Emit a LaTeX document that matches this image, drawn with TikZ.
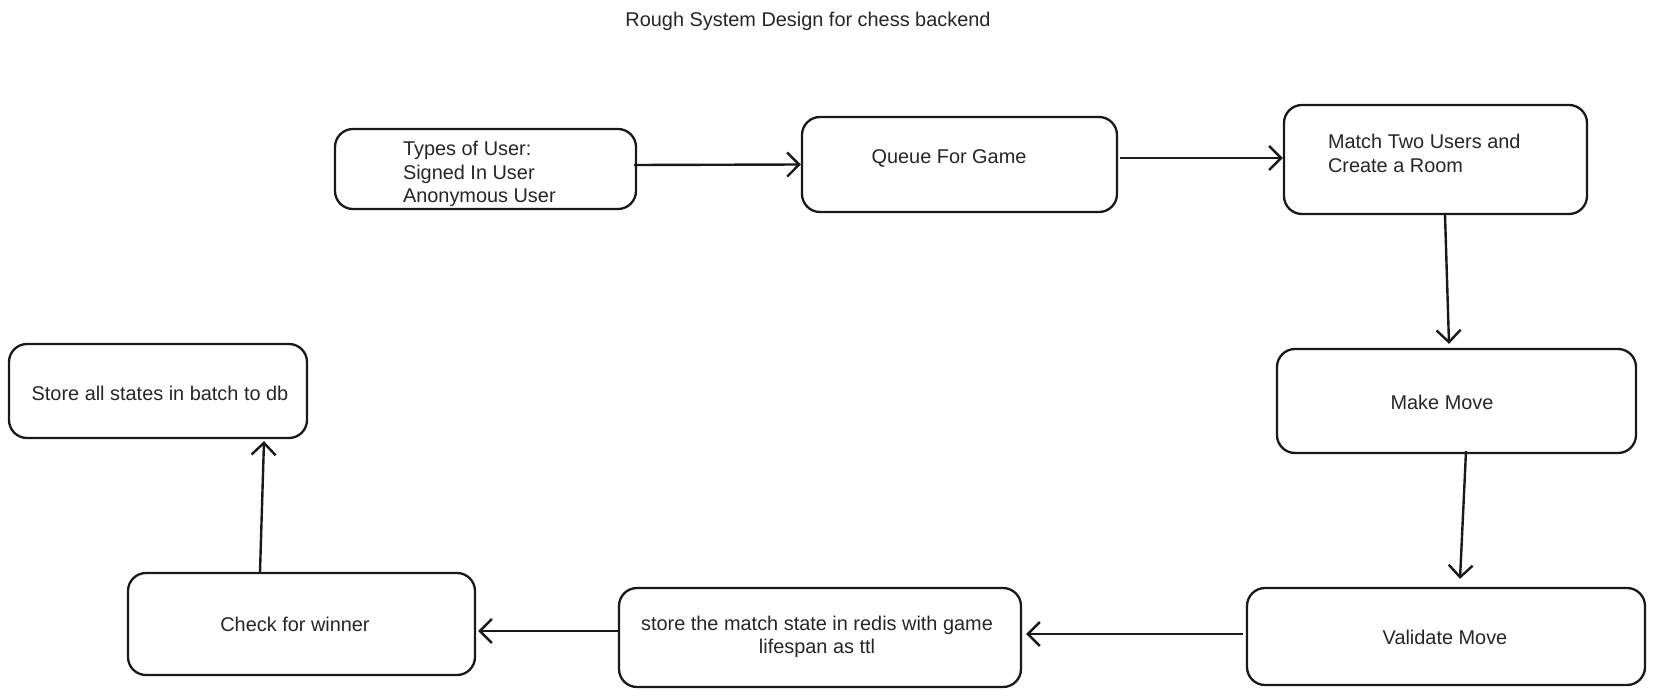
\documentclass[tikz,border=0pt]{standalone}
\usepackage{fontspec}
\setmainfont{Liberation Sans}
\usetikzlibrary{arrows.meta}
\begin{document}
\begin{tikzpicture}[x=1pt,y=-1pt,
  box/.style={draw=black!90, line width=2.3pt, rounded corners=18pt, inner sep=0pt, fill=white},
  txt/.style={font=\fontsize{19.9}{23.3}\selectfont, text=black!85},
  arr/.style={draw=black!90, line width=2.4pt, -{Straight Barb[length=12pt,width=24pt,line width=2.4pt]}}]
\useasboundingbox[fill=white] (0,0) rectangle (1653,698);
\node[txt] (title) at (808,21) {Rough System Design for chess backend};

\node[box, minimum width=301pt, minimum height=80pt] (b1) at (485.5,169) {};
\node[txt, anchor=west, align=left] (t1) at (399.5,174) {Types of User:\\Signed In User\\Anonymous User};

\node[box, txt, minimum width=315pt, minimum height=95pt] (b2) at (959.5,164.5) {};
\node[txt] (t2) at (949,158) {Queue For Game};

\node[box, minimum width=303pt, minimum height=109pt] (b3) at (1435.5,159.5) {};
\node[txt, anchor=west, align=left] (t3) at (1324.5,153.5) {Match Two Users and\\Create a Room};

\node[box, minimum width=359pt, minimum height=104pt] (b4) at (1456.5,401) {};
\node[txt] (t4) at (1442,402) {Make Move};

\node[box, minimum width=398pt, minimum height=97pt] (b5) at (1446,636.5) {};
\node[txt] (t5) at (1445,637) {Validate Move};

\node[box, minimum width=402pt, minimum height=99pt] (b6) at (820,637.5) {};
\node[txt, align=center] (t6) at (817,637) {store the match state in redis with game\\lifespan as ttl};

\node[box, minimum width=347pt, minimum height=102pt] (b7) at (301.5,624) {};
\node[txt] (t7) at (295,624) {Check for winner};

\node[box, minimum width=298pt, minimum height=94pt] (b8) at (158,391) {};
\node[txt] (t8) at (160,393) {Store all states in batch to db};

\draw[arr] ([shift={(-3pt,4pt)}]b1.east) -- ([yshift=0pt]b2.west);
\draw[arr] ([shift={(2pt,6.5pt)}]b2.east) -- ([yshift=1.5pt]b3.west);
\draw[arr] ([xshift=9.5pt]b3.south) -- ([shift={(-7.5pt,4pt)}]b4.north);
\draw[arr] ([shift={(9.5pt,3pt)}]b4.south) -- ([shift={(14pt,8pt)}]b5.north);
\draw[arr] ([shift={(-3pt,2.5pt)}]b5.west) -- ([shift={(4pt,3.5pt)}]b6.east);
\draw[arr] ([yshift=6.5pt]b6.west) -- ([shift={(2pt,-7pt)}]b7.east);
\draw[arr] ([xshift=-41.5pt]b7.north) -- ([shift={(106pt,-2pt)}]b8.south);
\end{tikzpicture}
\end{document}
